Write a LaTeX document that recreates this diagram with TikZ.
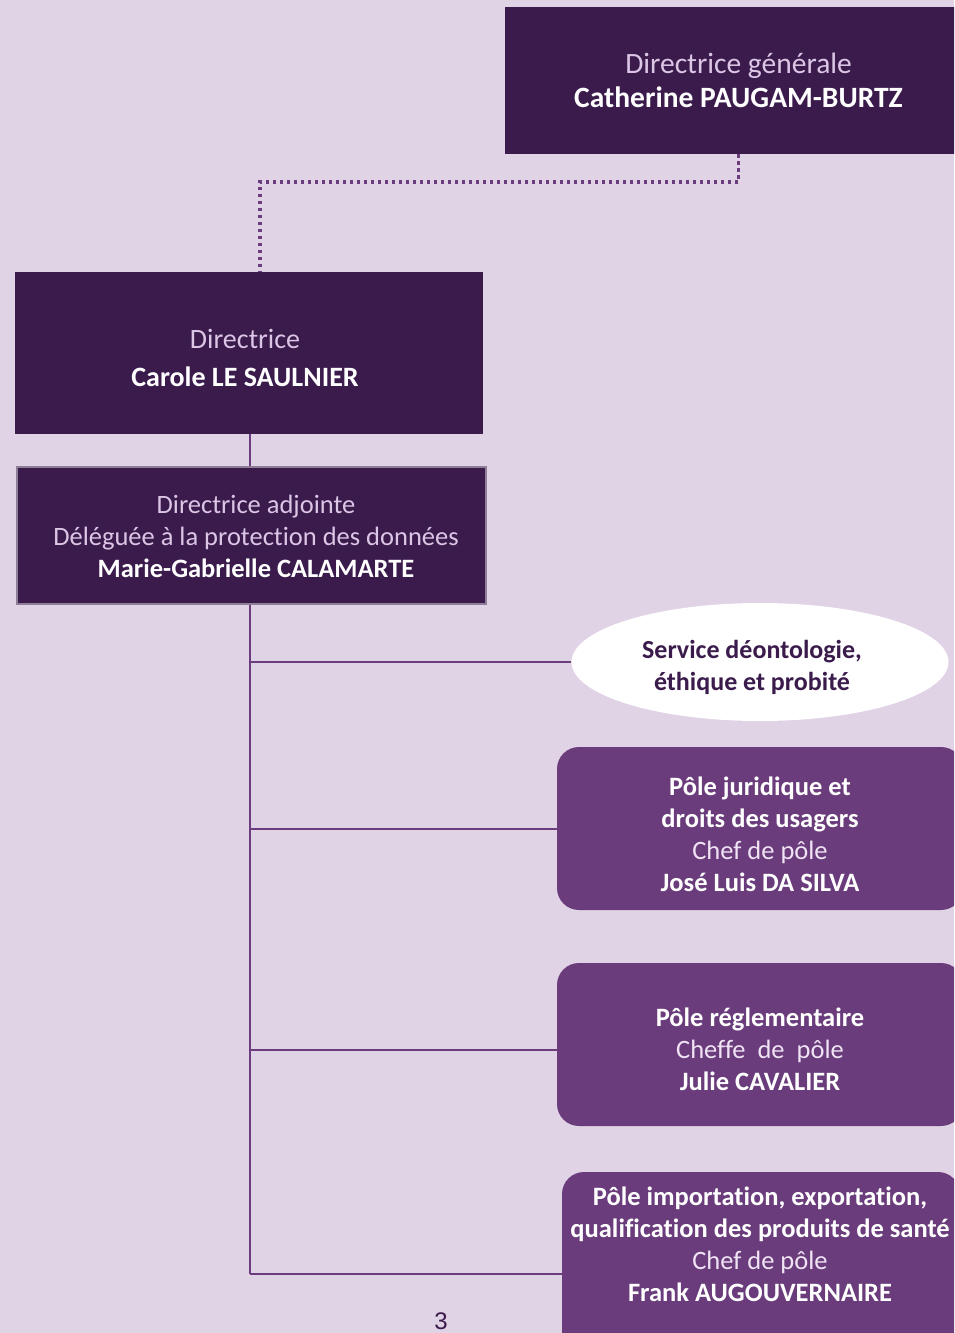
\documentclass[tikz,border=0pt]{standalone}
\usepackage{fontspec}
\setmainfont{Carlito}[Ligatures=NoCommon]
\newfontfamily\pagefont{Liberation Sans}
\usetikzlibrary{shapes.geometric}
\definecolor{bg}{HTML}{E1D3E6}
\definecolor{dark}{HTML}{3A1B4C}
\definecolor{mid}{HTML}{6A3C7C}
\definecolor{lightt}{HTML}{DCC6E6}
\definecolor{lightp}{HTML}{F0E4F4}
\definecolor{linec}{HTML}{6B3D7E}
\definecolor{bordc}{HTML}{8E7E98}
\begin{document}
\begin{tikzpicture}[x=1pt,y=-1pt,
  darkbox/.style={rectangle, fill=dark, inner sep=0pt, text=white, align=center},
  polebox/.style={rectangle, rounded corners=22pt, fill=mid, inner sep=0pt},
  poletxt/.style={text=white, align=center, inner sep=0pt, font=\fontsize{26.5}{32}\selectfont},
  conn/.style={draw=linec, line width=2pt},
  dots/.style={draw=linec, line width=3.5pt, dash pattern=on 3.5pt off 3.5pt}]
\useasboundingbox (0,0) rectangle (954,1333);
\clip (0,0) rectangle (954,1333);
\fill[bg] (0,0) rectangle (954,1333);

% top box
\node[darkbox, minimum width=467pt, minimum height=147pt, font=\fontsize{29.5}{34}\selectfont]
  (d1) at (738.5,80.5) {\textcolor{lightt}{Directrice générale}\\\textbf{Catherine PAUGAM-BURTZ}};

% directrice
\node[darkbox, minimum width=468pt, minimum height=162pt] (d2) at (249,353) {};
\node[text=white, align=center, inner sep=0pt, font=\fontsize{28}{38}\selectfont]
  (d2t) at (245,358) {\textcolor{lightt}{Directrice}\\\textbf{Carole LE SAULNIER}};

% adjointe
\node[darkbox, draw=bordc, line width=1.5pt, minimum width=469pt, minimum height=137pt] (d3) at (251.5,535.5) {};
\node[text=white, align=center, inner sep=0pt, font=\fontsize{26.5}{32}\selectfont]
  (d3t) at (256,536) {\textcolor{lightt}{Directrice adjointe}\\\textcolor{lightt}{Déléguée à la protection des données}\\\textbf{Marie-Gabrielle CALAMARTE}};

% ellipse
\node[ellipse, fill=white, minimum width=377pt, minimum height=118pt, inner sep=0pt] (s1) at (760,662) {};
\node[text=dark, align=center, inner sep=0pt, font=\fontsize{26}{32}\selectfont\bfseries]
  (s1t) at (752,667) {Service déontologie,\\éthique et probité};

% pole juridique
\node[polebox, minimum width=406pt, minimum height=163pt] (p1) at (760,828.5) {};
\node[poletxt] (p1t) at (760,834) {\textbf{Pôle juridique et}\\\textbf{droits des usagers}\\\textcolor{lightp}{Chef de pôle}\\\textbf{José Luis DA SILVA}};

% pole reglementaire
\node[polebox, minimum width=406pt, minimum height=163pt] (p2) at (760,1044.5) {};
\node[poletxt] (p2t) at (760,1049) {\textbf{Pôle réglementaire}\\\textcolor{lightp}{Cheffe\ \ de\ \ pôle}\\\textbf{Julie CAVALIER}};

% pole importation
\node[polebox, minimum width=398pt, minimum height=190pt] (p3) at (761,1267) {};
\node[poletxt] (p3t) at (760,1244) {\textbf{Pôle importation, exportation,}\\\textbf{qualification des produits de santé}\\\textcolor{lightp}{Chef de pôle}\\\textbf{Frank AUGOUVERNAIRE}};

% connectors
\coordinate (dl) at (260,182);
\draw[dots] (d1.south) |- (dl) -- (dl |- d2.north);
\coordinate (sp) at (250,0);
\draw[conn] (sp |- d2.south) -- (sp |- d3.north);
\coordinate (h3) at (250,1274);
\draw[conn] (sp |- d3.south) -- (h3);
\draw[conn] (sp |- s1.west) -- (s1.west);
\draw[conn] (sp |- p1.west) -- (p1.west);
\draw[conn] ([yshift=-5.5pt]sp |- p2.west) -- ([yshift=-5.5pt]p2.west);
\draw[conn] (h3) -- (h3 -| p3.west);

% page number
\node[text=dark, inner sep=0pt, font=\pagefont\fontsize{24}{28}\selectfont] (pg) at (441,1321) {3};
\end{tikzpicture}
\end{document}
